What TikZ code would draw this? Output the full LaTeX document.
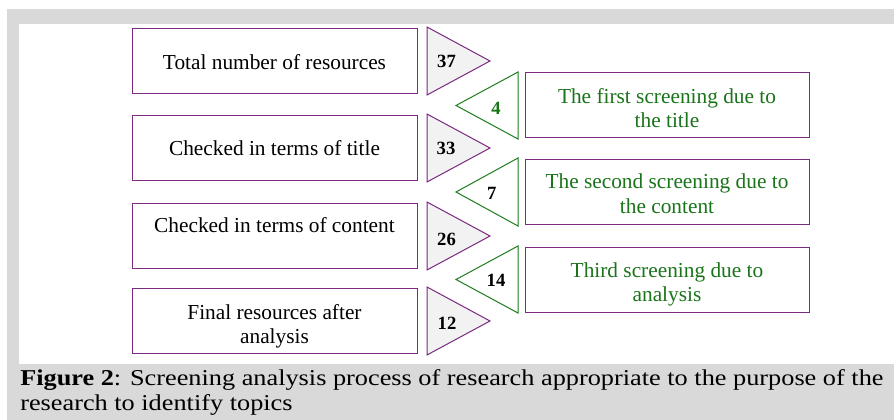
\documentclass[tikz,border=0pt]{standalone}
\usepackage{fontspec}
\setmainfont{Liberation Serif}
\newfontfamily\capfont[FakeStretch=1.16]{Liberation Serif}
\definecolor{bggray}{HTML}{D9D9D9}
\definecolor{trifill}{HTML}{F2F2F2}
\definecolor{boxpurple}{HTML}{7A2A80}
\definecolor{linegreen}{HTML}{1E7D1E}
\definecolor{textgreen}{HTML}{1A741A}
\tikzset{
  lbox/.style={draw=boxpurple, line width=0.75pt, fill=white, minimum width=213.75pt, minimum height=48.75pt, inner sep=0pt},
  rbox/.style={draw=boxpurple, line width=0.75pt, fill=white, minimum width=213pt, minimum height=48.75pt, inner sep=0pt},
  ltext/.style={inner sep=0pt, align=center, font=\fontsize{16}{18}\selectfont, text height=11pt, text depth=3.5pt},
  purtri/.style={draw=boxpurple, line width=0.75pt, fill=trifill, line join=miter},
  gretri/.style={draw=linegreen, line width=0.75pt, fill=white, line join=miter},
  num/.style={inner sep=0pt, font=\bfseries\fontsize{14}{14}\selectfont, text height=9.6pt, text depth=0pt},
  captext/.style={inner sep=0pt, anchor=base west, font=\capfont\fontsize{17}{19}\selectfont}
}
\begin{document}
\begin{tikzpicture}[x=0.75pt,y=-0.75pt]
\useasboundingbox (0,0) rectangle (894,420);
\fill[bggray] (7,9) rectangle (894,420);
\fill[white] (19,24) rectangle (894,364);

% left boxes
\node[lbox] (L1) at (274.5,61.5) {};
\node[lbox] (L2) at (274.5,148.5) {};
\node[lbox] (L3) at (274.5,236.5) {};
\node[lbox] (L4) at (274.5,321.5) {};
\node[ltext] (L1t) at (274.5,65) {Total number of resources};
\node[ltext] (L2t) at (274.5,151) {Checked in terms of title};
\node[ltext] (L3t) at (274.5,228) {Checked in terms of content};
\node[ltext] (L4a) at (274.5,315) {Final resources after};
\node[ltext] (L4b) at (274.5,339) {analysis};

% right boxes
\node[rbox] (R1) at (667,105.5) {};
\node[rbox] (R2) at (667,192.5) {};
\node[rbox] (R3) at (667,280.5) {};
\node[ltext, text=textgreen] (R1a) at (667,99) {The first screening due to};
\node[ltext, text=textgreen] (R1b) at (667,123) {the title};
\node[ltext, text=textgreen] (R2a) at (667,184) {The second screening due to};
\node[ltext, text=textgreen] (R2b) at (667,209) {the content};
\node[ltext, text=textgreen] (R3a) at (667,273) {Third screening due to};
\node[ltext, text=textgreen] (R3b) at (667,297) {analysis};

% purple triangles (right-pointing)
\draw[purtri] (427,27) -- (427,95) -- (490,61) -- cycle;
\draw[purtri] (427,114) -- (427,182) -- (490,148) -- cycle;
\draw[purtri] (427,202) -- (427,270) -- (490,236) -- cycle;
\draw[purtri] (427,287) -- (427,355) -- (490,321) -- cycle;
% green triangles (left-pointing)
\draw[gretri] (518,72) -- (518,139) -- (456,105.5) -- cycle;
\draw[gretri] (518,158) -- (518,226) -- (456,192) -- cycle;
\draw[gretri] (518,246) -- (518,313) -- (456,279.5) -- cycle;

% numbers
\node[num] (n37) at (446.5,61.5) {37};
\node[num] (n33) at (446,148) {33};
\node[num] (n26) at (446.5,239.5) {26};
\node[num] (n12) at (447,323) {12};
\node[num, text=textgreen] (n4) at (496,108.5) {4};
\node[num] (n7) at (491.7,193) {7};
\node[num] (n14) at (496,280.5) {14};

% caption
\node[captext] (cap1) at (20,386) {\textbf{Figure 2}: Screening analysis process of research appropriate to the purpose of the};
\node[captext] (cap2) at (20,411) {research to identify topics};
\end{tikzpicture}
\end{document}
